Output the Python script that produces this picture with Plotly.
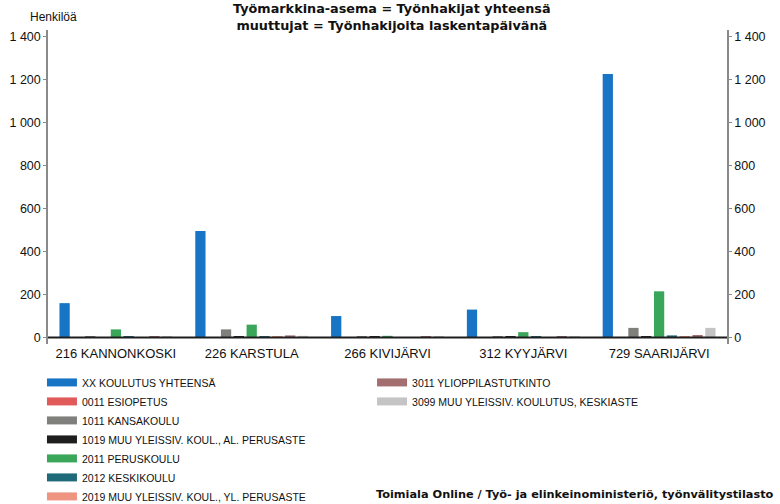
import plotly.graph_objects as go

categories = ["216 KANNONKOSKI", "226 KARSTULA", "266 KIVIJÄRVI", "312 KYYJÄRVI", "729 SAARIJÄRVI"]

series_names = [
    "XX KOULUTUS YHTEENSÄ",
    "0011 ESIOPETUS",
    "1011 KANSAKOULU",
    "1019 MUU YLEISSIV. KOUL., AL. PERUSASTE",
    "2011 PERUSKOULU",
    "2012 KESKIKOULU",
    "2019 MUU YLEISSIV. KOUL., YL. PERUSASTE",
    "3011 YLIOPPILASTUTKINTO",
    "3099 MUU YLEISSIV. KOULUTUS, KESKIASTE",
]

xx_yhteensa = [160, 495, 100, 130, 1225]
esiopetus_0011 = [0, 1, 0, 0, 1]
kansakoulu_1011 = [4, 38, 4, 5, 45]
muu_al_1019 = [2, 3, 3, 3, 5]
peruskoulu_2011 = [38, 60, 8, 25, 215]
keskikoulu_2012 = [3, 6, 2, 4, 10]
muu_yl_2019 = [2, 3, 1, 2, 4]
ylioppilas_3011 = [6, 10, 4, 6, 12]
muu_keskiaste_3099 = [3, 8, 3, 5, 45]

series_values = [xx_yhteensa, esiopetus_0011, kansakoulu_1011, muu_al_1019,
                 peruskoulu_2011, keskikoulu_2012, muu_yl_2019, ylioppilas_3011,
                 muu_keskiaste_3099]

colors = ["#1874c4", "#e05a5a", "#7f807c", "#1e1e1e", "#3aa65a",
          "#1f6a78", "#ee9480", "#a26e70", "#c4c4c4"]

tick_vals = [0, 200, 400, 600, 800, 1000, 1200, 1400]

FONT = "Liberation Sans, Arial, sans-serif"
WIDE = "DejaVu Sans, Liberation Sans, sans-serif"

fig = go.Figure()
for i, (name, vals, col) in enumerate(zip(series_names, series_values, colors)):
    fig.add_trace(go.Bar(
        x=categories, y=vals, name=name, marker_color=col,
        marker_line_width=0, showlegend=False,
    ))

# helper trace so the right-hand axis is drawn
fig.add_trace(go.Scatter(x=categories, y=xx_yhteensa, yaxis="y2", mode="markers",
                         marker=dict(opacity=0), showlegend=False, hoverinfo="skip"))

for i, (name, col) in enumerate(zip(series_names, colors)):
    leg = "legend2" if i < 7 else "legend3"
    # legend key (wide bar-like swatch)
    fig.add_trace(go.Scatter(
        x=[None], y=[None], mode="lines", name=name,
        line=dict(color=col, width=8), hoverinfo="skip", legend=leg,
    ))

axis_common = dict(
    range=[-30, 1430], tickvals=tick_vals, separatethousands=True,
    showgrid=False, zeroline=False, showline=True, linecolor="#8a8a8a", linewidth=1.5,
    ticks="outside", ticklen=3, tickcolor="#8a8a8a",
    tickfont=dict(family=FONT, size=12.5, color="#111"),
)

legend_common = dict(
    xref="container", yref="container", xanchor="left", yanchor="top",
    orientation="v", font=dict(family=FONT, size=10.5, color="#111"),
    tracegroupgap=0, itemwidth=30, bgcolor="rgba(0,0,0,0)",
    itemclick=False, itemdoubleclick=False,
)

fig.update_layout(
    width=780, height=504,
    margin=dict(l=48, r=53, t=29.5, b=159.5, autoexpand=False),
    paper_bgcolor="white", plot_bgcolor="white",
    separators=", ",
    barmode="group", bargap=0.15, bargroupgap=0.2,
    font=dict(family=FONT, size=11, color="#111"),
    xaxis=dict(showgrid=False, showline=False, zeroline=False, ticks="",
               tickfont=dict(family=FONT, size=13, color="#111")),
    yaxis=dict(**axis_common),
    yaxis2=dict(**axis_common, overlaying="y", side="right"),
    legend2=dict(x=0.0538, y=0.270, **legend_common),
    legend3=dict(x=0.477, y=0.270, **legend_common),
    showlegend=True,
)

fig.add_shape(type="line", xref="paper", yref="y", x0=0, x1=1, y0=0, y1=0,
              line=dict(color="#1e1e1e", width=2))

fig.add_annotation(
    text="<b>Työmarkkina-asema = Työnhakijat yhteensä<br>muuttujat = Työnhakijoita laskentapäivänä</b>",
    xref="paper", yref="paper", x=0.5066, y=1.10, xanchor="center", yanchor="top",
    showarrow=False, font=dict(family=WIDE, size=12.8, color="#111"))
fig.add_annotation(text="Henkilöä", xref="paper", yref="paper", x=0.0088, y=1.04,
                   xanchor="center", yanchor="middle",
                   showarrow=False, font=dict(family=FONT, size=12, color="#111"))
fig.add_annotation(text="<b>Toimiala Online / Työ- ja elinkeinoministeriö, työnvälitystilasto</b>",
                   xref="paper", yref="paper", x=1.072, xanchor="right", y=-0.478,
                   yanchor="middle", showarrow=False,
                   font=dict(family=WIDE, size=11.3, color="#111"))

fig.write_html("out.html", config={"displayModeBar": False},
               post_script="document.body.style.margin='0px';")
